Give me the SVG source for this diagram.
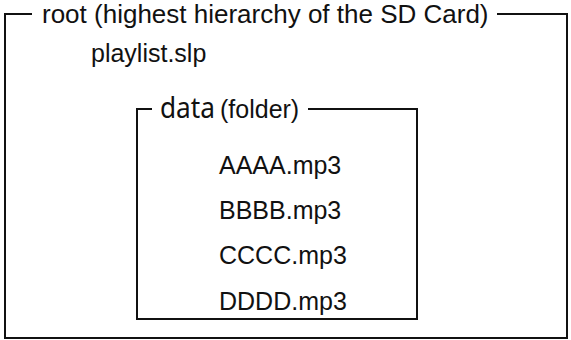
<svg xmlns="http://www.w3.org/2000/svg" width="571" height="340" viewBox="0 0 571 340">
<style>
.t{font-family:"Liberation Sans",Arial,sans-serif;fill:#111;}
.frame{fill:none;stroke:#111;stroke-width:2;stroke-linejoin:miter;}
</style>
<rect width="571" height="340" fill="#fff"/>
<g id="connectors">
</g>
<g id="root">
<path class="frame" d="M32,14 H5 V338 H567 V14 H497"/>
<text class="t" x="42" y="23" font-size="26">root (highest hierarchy of the SD Card)</text>
</g>
<g id="playlist">
<text class="t" x="91" y="62" font-size="25">playlist.slp</text>
</g>
<g id="data">
<path class="frame" d="M152,109 H137 V319 H417 V109 H308"/>
<text x="160" y="118" font-size="29" font-family="'Noto Sans','DejaVu Sans',sans-serif" fill="#111" textLength="55" lengthAdjust="spacingAndGlyphs">data</text>
<text class="t" x="220" y="118" font-size="25">(folder)</text>
</g>
<g id="aaaa"><text class="t" x="219" y="174" font-size="25">AAAA.mp3</text></g>
<g id="bbbb"><text class="t" x="219" y="219" font-size="25">BBBB.mp3</text></g>
<g id="cccc"><text class="t" x="219" y="264" font-size="25">CCCC.mp3</text></g>
<g id="dddd"><text class="t" x="219" y="310" font-size="25">DDDD.mp3</text></g>
</svg>
